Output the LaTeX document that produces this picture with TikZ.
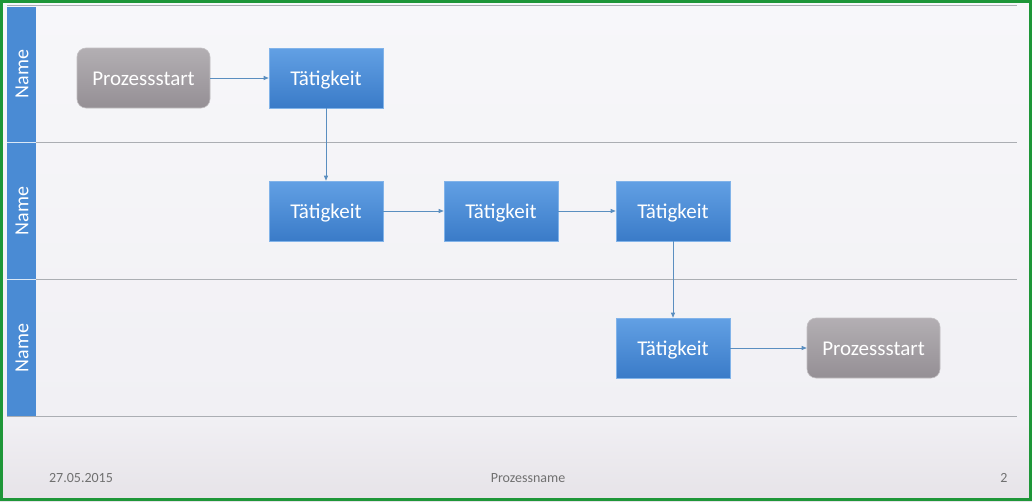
\documentclass[tikz,border=0pt]{standalone}
\usepackage{fontspec}
\setmainfont{Carlito}
\usetikzlibrary{arrows.meta}
\definecolor{bluetop}{HTML}{62A0E4}
\definecolor{bluebot}{HTML}{3A7BC8}
\definecolor{grytop}{HTML}{B3AFB3}
\definecolor{grybot}{HTML}{958F95}
\definecolor{lanebar}{HTML}{4A8BD4}
\definecolor{arr}{HTML}{5A8EC0}
\definecolor{laneline}{HTML}{ABAEB3}
\definecolor{frame}{HTML}{1E9638}
\definecolor{foot}{HTML}{707070}
\definecolor{bgtop}{HTML}{F7F7FA}
\definecolor{bgmid}{HTML}{F1F0F4}
\definecolor{bgbot}{HTML}{E6E3E8}
\tikzset{
  task/.style={draw=bluetop!80!white, line width=0.6pt, top color=bluetop, bottom color=bluebot,
    minimum width=114pt, minimum height=60pt, text=white, font=\fontsize{21}{24}\selectfont, inner sep=0pt,
    text height=14pt, text depth=0pt},
  term/.style={draw=grytop!80!white, line width=0.6pt, rounded corners=9pt, top color=grytop, bottom color=grybot,
    minimum width=133pt, minimum height=60pt, text=white, font=\fontsize{21}{24}\selectfont, inner sep=0pt,
    text height=14pt, text depth=0pt},
  flow/.style={draw=arr, line width=0.7pt, -{Triangle[length=5pt,width=4pt]}},
  lanelbl/.style={rotate=90, text=white, font=\fontsize{20}{24}\selectfont},
  footer/.style={text=foot, font=\fontsize{14}{16}\selectfont},
}
\begin{document}
\begin{tikzpicture}[x=1pt,y=-1pt]
\useasboundingbox (0,0) rectangle (1032,501);
% background
\shade[top color=bgtop, bottom color=bgmid] (0,0) rectangle (1032,416);
\shade[top color=bgmid, bottom color=bgbot] (0,416) rectangle (1032,501);
% lane header bar
\fill[lanebar] (7,7) rectangle (36,416);
% lane lines
\draw[laneline, line width=0.6pt] (7,5.5) -- (1017,5.5);
\draw[laneline, line width=0.8pt] (7,142) -- (1017,142);
\draw[laneline, line width=0.8pt] (7,279) -- (1017,279);
\draw[laneline, line width=0.8pt] (7,416) -- (1017,416);
\draw[white!80!lanebar, line width=0.6pt] (7,142) -- (36,142) (7,279) -- (36,279);
% lane labels
\node[lanelbl] (l1) at (22,74) {Name};
\node[lanelbl] (l2) at (22,211) {Name};
\node[lanelbl] (l3) at (22,348) {Name};
% nodes
\node[term] (s1) at (143.5,78) {Prozessstart};
\node[task] (t1) at (326,78) {Tätigkeit};
\node[task] (t2) at (326,211) {Tätigkeit};
\node[task] (t3) at (501,211) {Tätigkeit};
\node[task] (t4) at (673,211) {Tätigkeit};
\node[task] (t5) at (673,348) {Tätigkeit};
\node[term] (s2) at (873.5,348) {Prozessstart};
% connectors
\draw[flow] (s1) -- (t1);
\draw[flow] (t1) -- (t2);
\draw[flow] (t2) -- (t3);
\draw[flow] (t3) -- (t4);
\draw[flow] (t4) -- (t5);
\draw[flow] (t5) -- (s2);
% footer
\node[footer] (d) at (81,478) {27.05.2015};
\node[footer] (p) at (528,478) {Prozessname};
\node[footer] (n) at (1004,478) {2};
% frame
\draw[frame, line width=3pt] (1.5,1.5) rectangle (1030.5,499.5);
\end{tikzpicture}
\end{document}
